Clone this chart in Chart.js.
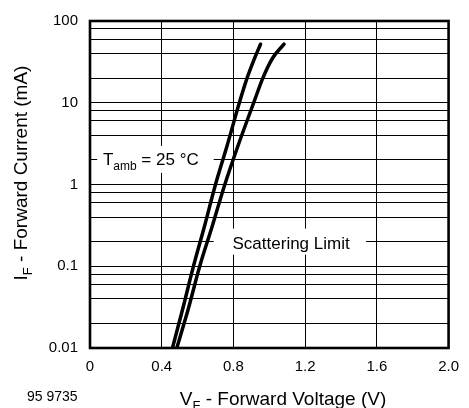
<!DOCTYPE html>
<html>
<head>
<meta charset="utf-8">
<script src="https://cdn.jsdelivr.net/npm/chart.js@4.4.1/dist/chart.umd.min.js"></script>
<style>
  body { margin: 0; background: #fff; }
  canvas { display: block; }
</style>
</head>
<body>
<canvas id="ivChart" width="469" height="408"></canvas>
<script>
// forward current levels (mA) and the voltage
const currentLevels = [0.01, 0.03, 0.1, 0.3, 1, 3, 10, 20, 35, 52];
const voltsLow = [0.46, 0.517, 0.577, 0.637, 0.70, 0.765, 0.833, 0.876, 0.918, 0.951];
const voltsHigh = [0.484, 0.548, 0.612, 0.68, 0.752, 0.826, 0.913, 0.964, 1.018, 1.082];

// axis ticks
const xTickValues = [0, 0.4, 0.8, 1.2, 1.6, 2.0];
const xTickText = ["0", "0.4", "0.8", "1.2", "1.6", "2.0"];
const yGridValues = [0.01, 0.02, 0.04, 0.06, 0.08, 0.1, 0.2, 0.4, 0.6, 0.8,
  1, 2, 4, 6, 8, 10, 20, 40, 60, 80, 100];
const yLabelValues = [0.01, 0.1, 1, 10, 100];
const yLabelText = ["0.01", "0.1", "1", "10", "100"];

const FONT = "'Liberation Sans', Arial, Helvetica, sans-serif";

function toPoints(volts) {
  return volts.map((v, i) => ({ x: v, y: currentLevels[i] }));
}

// text with a subscript part, e.g. I_F
function drawSub(ctx, parts, x, y, size, subSize) {
  let cx = x;
  parts.forEach(p => {
    ctx.font = (p.sub ? subSize : size) + "px " + FONT;
    ctx.fillText(p.t, cx, y + (p.sub ? size * 0.28 : 0));
    cx += ctx.measureText(p.t).width;
  });
  return cx - x;
}
function measureSub(ctx, parts, size, subSize) {
  let w = 0;
  parts.forEach(p => {
    ctx.font = (p.sub ? subSize : size) + "px " + FONT;
    w += ctx.measureText(p.t).width;
  });
  return w;
}

const labelPlugin = {
  id: "labelPlugin",
  beforeDatasetsDraw(chart) {
    const ctx = chart.ctx;
    const xs = chart.scales.x, ys = chart.scales.y;
    ctx.save();
    ctx.fillStyle = "#000";
    ctx.textBaseline = "alphabetic";

    // T_amb label sitting on the 2 mA grid line
    let yl = ys.getPixelForValue(2);
    ctx.fillStyle = "#fff";
    ctx.fillRect(xs.getPixelForValue(0.04), yl - 14, xs.getPixelForValue(0.69) - xs.getPixelForValue(0.04), 27);
    ctx.fillStyle = "#000";
    drawSub(ctx, [{ t: "T" }, { t: "amb", sub: true }, { t: " = 25 °C" }],
      xs.getPixelForValue(0.072), yl + 5, 17, 12);

    // Scattering Limit label on the 0.2 mA grid line
    yl = ys.getPixelForValue(0.2);
    ctx.fillStyle = "#fff";
    ctx.fillRect(xs.getPixelForValue(0.69), yl - 13, xs.getPixelForValue(1.54) - xs.getPixelForValue(0.69), 26);
    ctx.fillStyle = "#000";
    ctx.font = "17px " + FONT;
    ctx.fillText("Scattering Limit", xs.getPixelForValue(0.795), yl + 7);
    ctx.restore();
  },
  afterDatasetsDraw(chart) {
    const ctx = chart.ctx;
    const a = chart.chartArea;
    ctx.save();
    ctx.strokeStyle = "#000";
    ctx.lineWidth = 2.6;
    ctx.strokeRect(a.left, a.top, a.right - a.left, a.bottom - a.top);
    ctx.restore();
  },
  afterDraw(chart) {
    const ctx = chart.ctx;
    ctx.save();
    ctx.fillStyle = "#000";
    ctx.textBaseline = "alphabetic";

    // x axis title
    const xt = [{ t: "V" }, { t: "F", sub: true }, { t: " - Forward Voltage (V)" }];
    let w = measureSub(ctx, xt, 19, 13);
    drawSub(ctx, xt, 283 - w / 2, 405, 19, 13);

    // y axis title, rotated
    const yt = [{ t: "I" }, { t: "F", sub: true }, { t: " - Forward Current (mA)" }];
    w = measureSub(ctx, yt, 19, 13);
    ctx.translate(27, 173);
    ctx.rotate(-Math.PI / 2);
    drawSub(ctx, yt, -w / 2, 0, 19, 13);
    ctx.setTransform(1, 0, 0, 1, 0, 0);

    // figure number
    ctx.font = "14px " + FONT;
    ctx.fillText("95 9735", 27, 401);
    ctx.restore();
  }
};

const tickFont = { family: FONT, size: 15 };

const curveStyle = {
  borderColor: "#000",
  borderWidth: 3.5,
  borderCapStyle: "round",
  pointRadius: 0,
  cubicInterpolationMode: "monotone",
  fill: false,
};

new Chart(document.getElementById("ivChart"), {
  type: "line",
  data: {
    datasets: [
      { data: toPoints(voltsLow), ...curveStyle },
      { data: toPoints(voltsHigh), ...curveStyle },
    ],
  },
  options: {
    responsive: false,
    animation: false,
    devicePixelRatio: 1,
    layout: { padding: { top: 15, right: 11, left: 0, bottom: 0 } },
    plugins: { legend: { display: false }, tooltip: { enabled: false } },
    scales: {
      x: {
        type: "linear",
        min: 0,
        max: 2,
        afterBuildTicks: (s) => { s.ticks = xTickValues.map(v => ({ value: v })); },
        afterFit: (s) => { s.height = 60; },
        grid: { color: "#000", lineWidth: 1, drawTicks: false },
        border: { display: false },
        ticks: {
          padding: 10,
          color: "#000",
          font: tickFont,
          autoSkip: false,
          maxRotation: 0,
          callback: (v, i) => xTickText[i],
        },
      },
      y: {
        type: "logarithmic",
        min: 0.01,
        max: 100,
        afterBuildTicks: (s) => { s.ticks = yGridValues.map(v => ({ value: v })); },
        afterFit: (s) => { s.width = 90; },
        grid: { color: "#000", lineWidth: 1, drawTicks: false },
        border: { display: false },
        ticks: {
          padding: 12,
          color: "#000",
          font: tickFont,
          autoSkip: false,
          callback: (v) => {
            const k = yLabelValues.findIndex(L => Math.abs(L - v) < L * 1e-6);
            return k < 0 ? "" : yLabelText[k];
          },
        },
      },
    },
  },
  plugins: [labelPlugin],
});
</script>
</body>
</html>
